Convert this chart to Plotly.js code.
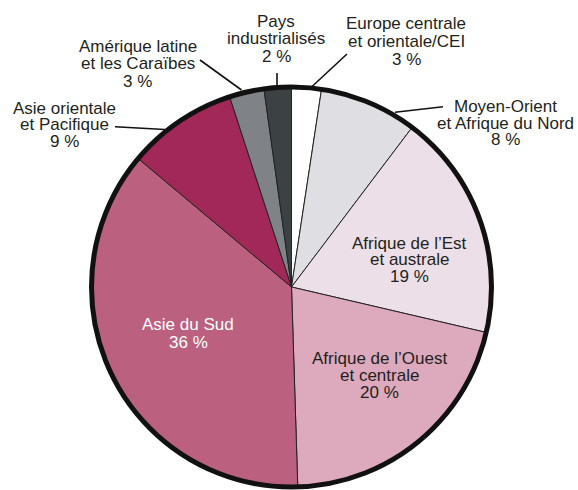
<!DOCTYPE html>
<html>
<head>
<meta charset="utf-8">
<script src="https://cdn.plot.ly/plotly-3.0.1.min.js"></script>
<style>html,body{margin:0;padding:0;background:#fff;}#chart{width:578px;height:490px;}</style>
</head>
<body>
<div id="chart"></div>
<script>
// Data (clockwise from 12 o'clock)
var regions = ['Europe centrale et orientale/CEI', 'Moyen-Orient et Afrique du Nord', 'Afrique de l\u2019Est et australe', 'Afrique de l\u2019Ouest et centrale', 'Asie du Sud', 'Asie orientale et Pacifique', 'Am\u00e9rique latine et les Cara\u00efbes', 'Pays industrialis\u00e9s'];
var shares = [2.4, 7.9, 18.35, 20.85, 36.6, 8.9, 2.8, 2.2];
var percentLabels = ['3 %', '8 %', '19 %', '20 %', '36 %', '9 %', '3 %', '2 %'];
var labelLines = [
  ['Europe centrale', 'et orientale/CEI'],
  ['Moyen-Orient', 'et Afrique du Nord'],
  ['Afrique de l\u2019Est', 'et australe'],
  ['Afrique de l\u2019Ouest', 'et centrale'],
  ['Asie du Sud'],
  ['Asie orientale', 'et Pacifique'],
  ['Am\u00e9rique latine', 'et les Cara\u00efbes'],
  ['Pays', 'industrialis\u00e9s']
];
var sliceColors = ['#ffffff', '#dfdfe3', '#ecdfe7', '#ddaabd', '#bb607f', '#a2285a', '#7f8286', '#3c4244'];
var textColors = ['#231f20', '#231f20', '#231f20', '#231f20', '#ffffff', '#231f20', '#231f20', '#231f20'];

// Layout geometry (pixels)
var W = 578, H = 490;
var CX = 291.5, CY = 287, R = 200;
function px(x) { return x / W; }
function py(y) { return 1 - y / H; }

// label anchor: center x, first baseline y, line spacing
var labelPos = [
  [406, 28.3, 18.3],
  [505, 111.7, 16.7],
  [409, 248.3, 16.7],
  [379, 363.3, 17],
  [188, 330, 17.5],
  [64, 113.3, 16.7],
  [137.5, 51.7, 17.5],
  [276, 26.7, 17.5]
];
var leaders = [
  [347, 54, 311.5, 87],
  [443, 106.7, 395, 112.3],
  null, null, null,
  [115, 126.7, 165, 129.5],
  [200, 60, 241.5, 90],
  [277, 73, 277, 86]
];

var FS = 17;
var annotations = [];
regions.forEach(function (r, i) {
  var lines = labelLines[i].concat([percentLabels[i]]);
  var p = labelPos[i];
  lines.forEach(function (t, j) {
    var base = p[1] + j * p[2];
    annotations.push({
      text: t, showarrow: false, xref: 'paper', yref: 'paper',
      x: px(p[0]), y: py(base - 0.31 * FS), xanchor: 'center', yanchor: 'middle',
      font: { family: 'Liberation Sans, Arial, sans-serif', size: FS, color: textColors[i] }
    });
  });
});

var shapes = [];
leaders.forEach(function (l) {
  if (!l) return;
  shapes.push({ type: 'line', xref: 'paper', yref: 'paper', x0: px(l[0]), y0: py(l[1]), x1: px(l[2]), y1: py(l[3]), line: { color: '#111', width: 1.6 } });
});
shapes.push({ type: 'circle', xref: 'paper', yref: 'paper', x0: px(CX - R), x1: px(CX + R), y0: py(CY + R), y1: py(CY - R), line: { color: '#111', width: 5 }, layer: 'above' });

var trace = {
  type: 'pie', labels: regions, values: shares, sort: false, direction: 'clockwise', rotation: 0,
  marker: { colors: sliceColors, line: { color: '#222', width: 1 } },
  textinfo: 'none', hoverinfo: 'label+percent', showlegend: false,
  domain: { x: [px(CX - R), px(CX + R)], y: [py(CY + R), py(CY - R)] }
};

Plotly.newPlot('chart', [trace], {
  width: W, height: H, margin: { l: 0, r: 0, t: 0, b: 0 },
  paper_bgcolor: '#ffffff', showlegend: false,
  annotations: annotations, shapes: shapes
}, { displayModeBar: false, staticPlot: true });
</script>
</body>
</html>
